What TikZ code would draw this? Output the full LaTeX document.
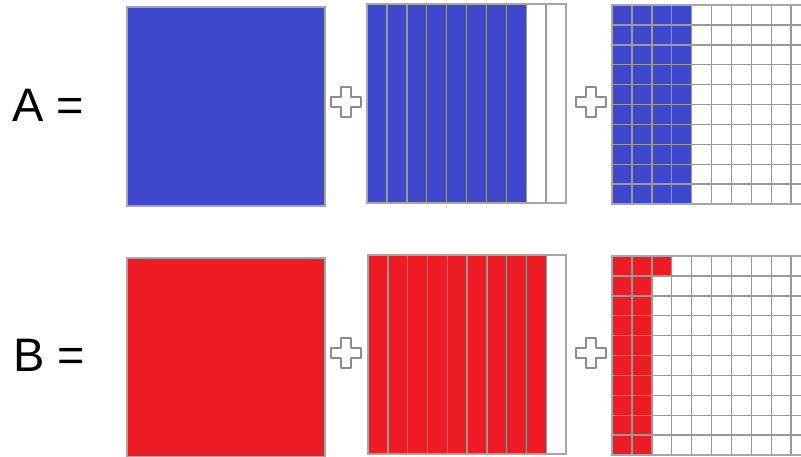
\documentclass[tikz,border=0pt]{standalone}
\usepackage{fontspec}
\setmainfont{Liberation Sans}
\usetikzlibrary{calc}
\definecolor{ablue}{RGB}{63,72,204}
\definecolor{bred}{RGB}{237,28,36}
\begin{document}
\begin{tikzpicture}[x=1pt,y=-1pt,
  frame/.style={draw=black!35,line width=1.2pt},
  gline/.style={draw=black!40,line width=1.4pt},
  plusmark/.style={draw=black!45,fill=white,line width=1.3pt,line join=round},
  lbl/.style={font=\fontsize{47}{47}\selectfont,inner sep=0pt}]
\useasboundingbox (0,0) rectangle (801,456);
\begin{scope}
\clip (0,0) rectangle (801,456);
% ---------- Row A ----------
\node[lbl] (la) at (48,105) {A =};
\fill[ablue] (127,7) rectangle (325,206);
\draw[frame] (127,7) rectangle (325,206);
\coordinate (pa1) at (346,102);
\draw[plusmark] ($(pa1)+(-5,-15)$) -- ++(10,0) -- ++(0,10) -- ++(10,0) -- ++(0,10) -- ++(-10,0) -- ++(0,10) -- ++(-10,0) -- ++(0,-10) -- ++(-10,0) -- ++(0,-10) -- ++(10,0) -- cycle;
\fill[ablue] (367,4) rectangle ({367+8*19.9},203);
\foreach \i in {1,...,9} \draw[gline] ({367+\i*19.9},4) -- ({367+\i*19.9},203);
\draw[frame] (367,4) rectangle (566,203);
\coordinate (pa2) at (591,102);
\draw[plusmark] ($(pa2)+(-5,-15)$) -- ++(10,0) -- ++(0,10) -- ++(10,0) -- ++(0,10) -- ++(-10,0) -- ++(0,10) -- ++(-10,0) -- ++(0,-10) -- ++(-10,0) -- ++(0,-10) -- ++(10,0) -- cycle;
\fill[ablue] (612,5) rectangle ({612+4*19.9},204);
\foreach \i in {1,...,9} {
  \draw[gline] ({612+\i*19.9},5) -- ({612+\i*19.9},204);
  \draw[gline] (612,{5+\i*19.9}) -- (811,{5+\i*19.9});
}
\draw[frame] (612,5) rectangle (811,204);
% ---------- Row B ----------
\node[lbl] (lb) at (49,355) {B =};
\fill[bred] (127,258) rectangle (325,457);
\draw[frame] (127,258) rectangle (325,457);
\coordinate (pb1) at (346,353);
\draw[plusmark] ($(pb1)+(-5,-15)$) -- ++(10,0) -- ++(0,10) -- ++(10,0) -- ++(0,10) -- ++(-10,0) -- ++(0,10) -- ++(-10,0) -- ++(0,-10) -- ++(-10,0) -- ++(0,-10) -- ++(10,0) -- cycle;
\fill[bred] (368,255) rectangle ({368+9*19.8},454);
\foreach \i in {1,...,9} \draw[gline] ({368+\i*19.8},255) -- ({368+\i*19.8},454);
\draw[frame] (368,255) rectangle (566,454);
\coordinate (pb2) at (591,353);
\draw[plusmark] ($(pb2)+(-5,-15)$) -- ++(10,0) -- ++(0,10) -- ++(10,0) -- ++(0,10) -- ++(-10,0) -- ++(0,10) -- ++(-10,0) -- ++(0,-10) -- ++(-10,0) -- ++(0,-10) -- ++(10,0) -- cycle;
\fill[bred] (612,256) rectangle ({612+2*19.9},455);
\fill[bred] ({612+2*19.9},256) rectangle ({612+3*19.9},{256+19.9});
\foreach \i in {1,...,9} {
  \draw[gline] ({612+\i*19.9},256) -- ({612+\i*19.9},455);
  \draw[gline] (612,{256+\i*19.9}) -- (811,{256+\i*19.9});
}
\draw[frame] (612,256) rectangle (811,455);
\end{scope}
\end{tikzpicture}
\end{document}
